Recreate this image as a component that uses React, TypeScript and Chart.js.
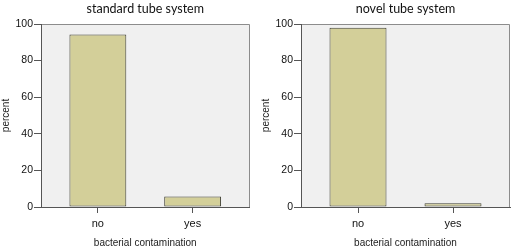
import React, { useEffect, useRef } from "react";
import { Chart, registerables } from "chart.js";

Chart.register(...registerables);

const categories = ["no", "yes"];
const standardValues = [94.3, 5.7];
const novelValues = [98.0, 2.0];
const yTickValues = [0, 20, 40, 60, 80, 100];
const panelTitles = ["standard tube system", "novel tube system"];
const xAxisTitle = "bacterial contamination";
const yAxisTitle = "percent";

const plotFrame = {
  id: "plotFrame",
  beforeDraw(chart: any) {
    const { ctx, chartArea: a } = chart;
    ctx.save();
    ctx.fillStyle = "#f0f0f0";
    ctx.fillRect(a.left, a.top, a.right - a.left, a.bottom - a.top);
    ctx.strokeStyle = "#8c8c8c";
    ctx.lineWidth = 1;
    ctx.beginPath();
    const l = Math.round(a.left) + 0.5;
    const t = Math.round(a.top) + 0.5;
    const r = Math.round(a.right) - 0.5;
    const b = Math.round(a.bottom);
    ctx.moveTo(l, t);
    ctx.lineTo(r, t);
    ctx.lineTo(r, b);
    ctx.stroke();
    ctx.restore();
  },
};

const tickFont = { family: "'Liberation Sans', Arial, sans-serif", size: 10.5 };
const xTickFont = { family: "'Liberation Sans', Arial, sans-serif", size: 11 };
const axisTitleFont = { family: "'Liberation Sans', Arial, sans-serif", size: 10 };
const titleFont = { family: "Lato, 'Open Sans', sans-serif", size: 12.5, weight: "normal" as const };

function Panel({ title, values, rightPad }: { title: string; values: number[]; rightPad: number }) {
  const ref = useRef<HTMLCanvasElement>(null);
  useEffect(() => {
    if (!ref.current) return;
    const chart = new Chart(ref.current, {
      type: "bar",
      data: {
        datasets: [
          {
            data: categories.map((_, i) => ({ x: i, y: values[i] })),
            backgroundColor: "#d3cf99",
            borderColor: "#3f3f33",
            borderWidth: 1,
            borderSkipped: false,
            barPercentage: 0.6,
            categoryPercentage: 1,
          } as any,
        ],
      },
      options: {
        animation: false,
        responsive: false,
        layout: { padding: { left: 0, right: rightPad, top: 0, bottom: 0 } },
        plugins: {
          legend: { display: false },
          tooltip: { enabled: false },
          title: {
            display: true,
            text: title,
            fullSize: false,
            font: titleFont,
            color: "#111",
            padding: { top: 1, bottom: 8 },
          },
        },
        scales: {
          x: {
            type: "linear",
            offset: false,
            min: -0.6,
            max: 1.6,
            afterBuildTicks: (s: any) => {
              s.ticks = categories.map((_, i) => ({ value: i }));
            },
            afterFit: (s: any) => {
              s.height = 45;
            },
            ticks: {
              callback: (v: any) => categories[v] ?? "",
              font: xTickFont,
              color: "#111",
              padding: 4,
              maxRotation: 0,
            },
            grid: { offset: false, drawOnChartArea: false, drawTicks: true, tickLength: 6, color: "#555" },
            border: { display: true, color: "#555" },
            title: {
              display: true,
              text: xAxisTitle,
              font: axisTitleFont,
              color: "#222",
              padding: { top: 0, bottom: 3 },
            },
          },
          y: {
            min: 0,
            max: 100,
            afterBuildTicks: (s: any) => {
              s.ticks = yTickValues.map((v) => ({ value: v }));
            },
            afterFit: (s: any) => {
              s.width = 41;
            },
            ticks: { font: tickFont, color: "#111", padding: 1 },
            grid: { drawOnChartArea: false, drawTicks: true, tickLength: 7, color: "#555" },
            border: { display: true, color: "#555" },
            title: {
              display: true,
              text: yAxisTitle,
              font: axisTitleFont,
              color: "#222",
              padding: { top: 0.5, bottom: 0 },
            },
          },
        },
      },
      plugins: [plotFrame],
    } as any);
    return () => chart.destroy();
  }, [title, values, rightPad]);
  return <canvas ref={ref} width={260} height={252} style={{ display: "block", width: 260, height: 252 }} />;
}

export default function App() {
  return (
    <div style={{ position: "fixed", left: 0, top: 0, width: 520, height: 252, display: "flex", background: "#fff" }}>
      <Panel title={panelTitles[0]} values={standardValues} rightPad={10.5} />
      <Panel title={panelTitles[1]} values={novelValues} rightPad={10} />
    </div>
  );
}
